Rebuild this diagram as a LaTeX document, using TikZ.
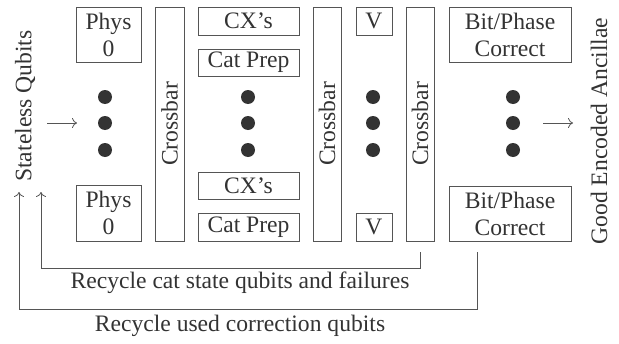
\documentclass[tikz,border=0pt]{standalone}
\usepackage{fontspec}
\setmainfont{Liberation Serif}
\usetikzlibrary{arrows.meta}
\definecolor{ink}{HTML}{333333}
\definecolor{linec}{HTML}{555555}
\begin{document}
\begin{tikzpicture}[x=1pt,y=-1pt,
  every node/.style={font=\fontsize{23.6}{27}\selectfont, text=ink},
  blk/.style={draw=linec, line width=0.9pt, inner sep=0pt, align=center},
  dotc/.style={circle, fill=ink, inner sep=0pt, minimum size=14pt},
  arr/.style={draw=linec, line width=0.8pt, -{To[length=5pt,width=10pt]}},
  fb/.style={draw=linec, line width=0.8pt}]
\useasboundingbox (0,0) rectangle (619,343);
% column 1
\node[blk, minimum width=65pt, minimum height=55pt] (p1) at (108.5,34.5) {Phys\\0};
\node[blk, minimum width=65pt, minimum height=56pt] (p2) at (108.5,213) {Phys\\0};
\node[blk, minimum width=234pt, minimum height=29pt, rotate=90] (c1) at (169.5,124) {Crossbar};
% column 2
\node[blk, minimum width=101pt, minimum height=28pt] (cx1) at (248.5,21) {CX’s};
\node[blk, minimum width=101pt, minimum height=27pt] (cp1) at (248.5,62.5) {Cat Prep};
\node[blk, minimum width=101pt, minimum height=27pt] (cx2) at (248.5,185.5) {CX’s};
\node[blk, minimum width=101pt, minimum height=28pt] (cp2) at (248.5,227) {Cat Prep};
\node[blk, minimum width=234pt, minimum height=28pt, rotate=90] (c2) at (327,124) {Crossbar};
% column 3
\node[blk, minimum width=36pt, minimum height=28pt] (v1) at (374,21) {V};
\node[blk, minimum width=36pt, minimum height=28pt] (v2) at (374,227) {V};
\node[blk, minimum width=234pt, minimum height=28pt, rotate=90] (c3) at (420,124) {Crossbar};
% column 4
\node[blk, minimum width=122pt, minimum height=55pt] (b1) at (510,34.5) {Bit/Phase\\Correct};
\node[blk, minimum width=122pt, minimum height=55pt] (b2) at (510,213.5) {Bit/Phase\\Correct};
% dots
\foreach \x/\n in {105/a,248/b,373/c,513/d}{
  \foreach \y/\m in {97/1,123/2,150/3}{
    \node[dotc] (d\n\m) at (\x,\y) {};
  }
}
% side labels
\node[rotate=90] (sq) at (25,106) {Stateless Qubits};
\node[rotate=90] (ge) at (599,131) {Good Encoded Ancillae};
% in/out arrows
\coordinate (ia) at (47,123);
\coordinate (ib) at (77,123);
\coordinate (oa) at (543,123);
\coordinate (ob) at (573,123);
\draw[arr] (ia) -- (ib);
\draw[arr] (oa) -- (ob);
% feedback loops
\coordinate (f1s) at (420,252);
\coordinate (f1e) at (41,192);
\coordinate (f2s) at (477,252);
\coordinate (f2e) at (19,192);
\draw[fb, -{To[length=5pt,width=10pt]}] (f1s) |- (41,268) -- (f1e);
\draw[fb, -{To[length=5pt,width=10pt]}] (f2s) |- (19,309) -- (f2e);
\node (t1) at (240,283) {Recycle cat state qubits and failures};
\node (t2) at (240,326) {Recycle used correction qubits};
\end{tikzpicture}
\end{document}
